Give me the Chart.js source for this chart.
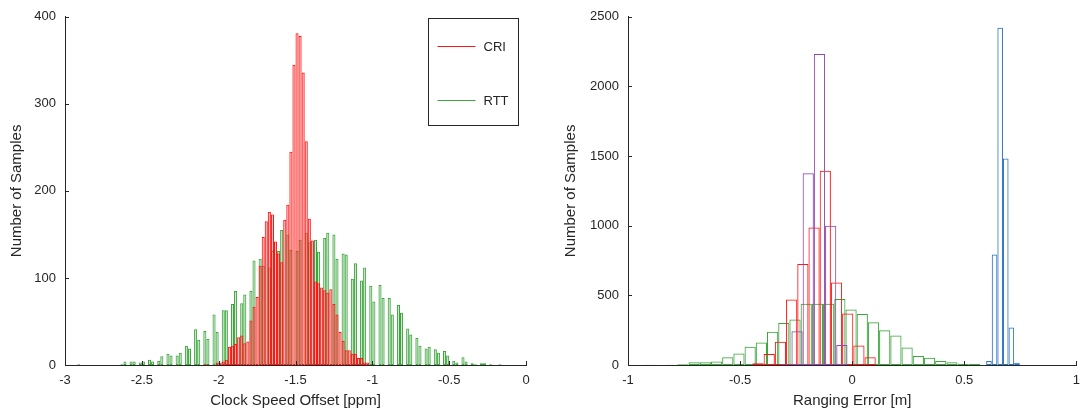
<!DOCTYPE html>
<html>
<head>
<meta charset="utf-8">
<script src="https://cdn.jsdelivr.net/npm/chart.js@4.4.1/dist/chart.umd.min.js"></script>
<style>
  html, body { margin: 0; padding: 0; background: #fff; }
  #wrap { position: relative; width: 1088px; height: 417px; }
  .panel { position: absolute; top: 0; width: 544px; height: 417px; }
</style>
</head>
<body>
<div id="wrap">
  <div class="panel" style="left:0"><canvas id="clockChart"></canvas></div>
  <div class="panel" style="left:544px"><canvas id="rangeChart"></canvas></div>
</div>
<script>
// --- Histogramas ---
// Painel esquerdo: Clock Speed Offset [ppm], bins de 0.02
const clockBinWidth = 0.02;
const criFirstBin = -2.09;
const criCounts = [
    1, 1, 0, 0, 3, 3, 4, 6, 21, 22,
    24, 32, 34, 25, 27, 51, 67, 78, 114, 147,
    165, 176, 173, 142, 128, 118, 167, 184, 245, 345,
    381, 378, 336, 257, 168, 143, 96, 94, 89, 86,
    83, 87, 70, 58, 38, 28, 17, 17, 13, 13,
    8, 8, 3, 3
];
const rttFirstBin = -2.91;
const rttCounts = [
    1, 0, 0, 0, 0, 0, 0, 0, 0, 0, 0, 0, 0, 0,
    1, 4, 0, 4, 4, 0, 3, 4, 0, 6, 4, 0, 5, 10, 0,
    13, 11, 0, 11, 14, 0, 22, 19, 0, 41, 29, 0, 39, 30, 0,
    58, 38, 0, 63, 63, 0, 70, 85, 0, 71, 81, 0, 85, 120, 0,
    122, 114, 0, 112, 131, 0, 131, 155, 0, 150, 132, 0, 131, 144, 0,
    152, 141, 0, 144, 130, 0, 146, 152, 0, 150, 122, 0, 128, 127, 0,
    99, 117, 0, 97, 112, 0, 91, 73, 0, 92, 77, 0, 77, 58, 0,
    69, 60, 0, 42, 35, 0, 31, 22, 0, 19, 21, 0, 18, 14, 0,
    16, 11, 0, 5, 3, 0, 9, 4, 0, 2, 1, 0, 2, 2, 0,
    1, 0, 0, 1
];

// Painel direito: Ranging Error [m]
const rangeBinWidth = 0.05;
const greenFirstBin = -0.905;
const greenCounts = [2, 0, 1, 5, 19, 19, 26, 55, 83, 131, 162, 238, 302, 326, 440,
                     440, 440, 474, 398, 367, 307, 250, 212, 126, 64, 52, 29, 19, 7, 7];
const redFirstBin = -0.42;
const redCounts = [12, 79, 167, 471, 726, 988, 1395, 593, 369, 140, 55];
const purpleFirstBin = -0.296;
const purpleCounts = [5, 243, 1376, 2233, 1000, 143];
const blueBinWidth = 0.025;
const blueFirstBin = 0.61;
const blueCounts = [29, 793, 2421, 1483, 269, 17];

// Eixos
const clockTicks = { min: -3, max: 0, step: 0.5 };
const clockCountTicks = { max: 400, step: 100 };
const rangeTicks = { min: -1, max: 1, step: 0.5 };
const rangeCountTicks = { max: 2500, step: 500 };

// Cores
const INK = '#262626';
const RED = 'rgb(255, 20, 20)';
const GREEN = 'rgb(60, 165, 60)';
const PURPLE = 'rgb(145, 75, 170)';
const BLUE = 'rgb(45, 115, 190)';
const FONT = '"Liberation Sans", Arial, Helvetica, sans-serif';

Chart.defaults.font.family = FONT;
Chart.defaults.color = INK;

const toPoints = (first, width, counts) =>
    counts.map((c, i) => ({ x: +(first + i * width).toFixed(4), y: c }));

const barStyle = {
    barPercentage: 1,
    categoryPercentage: 1,
    grouped: false,
    borderWidth: 1,
    borderSkipped: false,
    inflateAmount: 0
};

function xAxis(t, title) {
    return {
        type: 'linear', position: 'bottom', min: t.min, max: t.max, offset: false,
        grid: { display: false, drawTicks: false, offset: false },
        border: { display: true, color: INK, width: 1 },
        ticks: { stepSize: t.step, autoSkip: false, maxRotation: 0, padding: 8,
                 font: { size: 13 }, color: INK, callback: v => String(v) },
        title: { display: true, text: title, font: { size: 15 }, color: INK,
                 padding: { top: 0, bottom: 7 } },
        afterFit: s => { s.height = 52; }
    };
}

function hiddenX(t) {
    return { type: 'linear', display: false, min: t.min, max: t.max, offset: false,
             grid: { offset: false } };
}

function yAxis(t, titlePad, width) {
    return {
        type: 'linear', min: 0, max: t.max,
        grid: { display: false, drawTicks: false },
        border: { display: true, color: INK, width: 1 },
        ticks: { stepSize: t.step, padding: 9, font: { size: 13 }, color: INK,
                 callback: v => String(v) },
        title: { display: true, text: 'Number of Samples', font: { size: 15 }, color: INK,
                 padding: { top: titlePad, bottom: 0 } },
        afterFit: s => { s.width = width; }
    };
}

// Marcas de escala para dentro (estilo Octave)
const inwardTicks = {
    id: 'inwardTicks',
    afterDatasetsDraw(chart) {
        const { ctx, chartArea } = chart;
        const xs = chart.scales.x, ys = chart.scales.y;
        ctx.save();
        ctx.strokeStyle = INK;
        ctx.lineWidth = 1;
        ctx.beginPath();
        xs.ticks.forEach((t, i) => {
            const px = Math.round(xs.getPixelForTick(i)) + 0.5;
            ctx.moveTo(px, chartArea.bottom);
            ctx.lineTo(px, chartArea.bottom - 4);
        });
        ys.ticks.forEach((t, i) => {
            const py = Math.round(ys.getPixelForTick(i)) + 0.5;
            ctx.moveTo(chartArea.left, py);
            ctx.lineTo(chartArea.left + 4, py);
        });
        ctx.stroke();
        ctx.restore();
    }
};

// Legenda em caixa, canto superior direito
const boxLegend = {
    id: 'boxLegend',
    afterDraw(chart) {
        const { ctx, chartArea } = chart;
        const w = 90, h = 107;
        const left = Math.round(chartArea.right - 8 - w) + 0.5;
        const top = Math.round(chartArea.top + 1) + 0.5;
        ctx.save();
        ctx.fillStyle = '#fff';
        ctx.fillRect(left, top, w, h);
        ctx.strokeStyle = INK;
        ctx.lineWidth = 1;
        ctx.strokeRect(left, top, w, h);
        ctx.font = '13px ' + FONT;
        ctx.textBaseline = 'middle';
        chart.data.datasets.forEach((ds, i) => {
            const y = Math.round(top + 27 + i * 54.4) + 0.5;
            ctx.strokeStyle = ds.borderColor;
            ctx.beginPath();
            ctx.moveTo(left + 9, y);
            ctx.lineTo(left + 47, y);
            ctx.stroke();
            ctx.fillStyle = INK;
            ctx.fillText(ds.label, left + 55, y + 1);
        });
        ctx.restore();
    }
};

const baseOptions = {
    responsive: true,
    maintainAspectRatio: false,
    animation: false,
    events: [],
    plugins: { legend: { display: false }, tooltip: { enabled: false } }
};

new Chart(document.getElementById('clockChart'), {
    type: 'bar',
    data: {
        datasets: [
            { label: 'CRI', data: toPoints(criFirstBin, clockBinWidth, criCounts), xAxisID: 'x',
              borderColor: RED, backgroundColor: 'rgba(255, 60, 60, 0.3)', ...barStyle },
            { label: 'RTT', data: toPoints(rttFirstBin, clockBinWidth, rttCounts), xAxisID: 'xRtt',
              borderColor: GREEN, backgroundColor: 'rgba(60, 165, 60, 0.25)', ...barStyle }
        ]
    },
    options: {
        ...baseOptions,
        layout: { padding: { top: 15, right: 18, bottom: 0, left: 0 } },
        scales: {
            x: xAxis(clockTicks, 'Clock Speed Offset [ppm]'),
            xRtt: hiddenX(clockTicks),
            y: yAxis(clockCountTicks, 8, 65)
        }
    },
    plugins: [inwardTicks, boxLegend]
});

new Chart(document.getElementById('rangeChart'), {
    type: 'bar',
    data: {
        datasets: [
            { label: 'data1', data: toPoints(purpleFirstBin, rangeBinWidth, purpleCounts), xAxisID: 'x',
              borderColor: PURPLE, backgroundColor: 'rgba(0,0,0,0)', ...barStyle },
            { label: 'data2', data: toPoints(redFirstBin, rangeBinWidth, redCounts), xAxisID: 'xRed',
              borderColor: RED, backgroundColor: 'rgba(0,0,0,0)', ...barStyle },
            { label: 'data3', data: toPoints(greenFirstBin, rangeBinWidth, greenCounts), xAxisID: 'xGreen',
              borderColor: GREEN, backgroundColor: 'rgba(0,0,0,0)', ...barStyle },
            { label: 'data4', data: toPoints(blueFirstBin, blueBinWidth, blueCounts), xAxisID: 'xBlue',
              borderColor: BLUE, backgroundColor: 'rgba(0,0,0,0)', ...barStyle }
        ]
    },
    options: {
        ...baseOptions,
        layout: { padding: { top: 15, right: 8, bottom: 0, left: 0 } },
        scales: {
            x: xAxis(rangeTicks, 'Ranging Error [m]'),
            xRed: hiddenX(rangeTicks),
            xGreen: hiddenX(rangeTicks),
            xBlue: hiddenX(rangeTicks),
            y: yAxis(rangeCountTicks, 18, 84)
        }
    },
    plugins: [inwardTicks]
});
</script>
</body>
</html>
